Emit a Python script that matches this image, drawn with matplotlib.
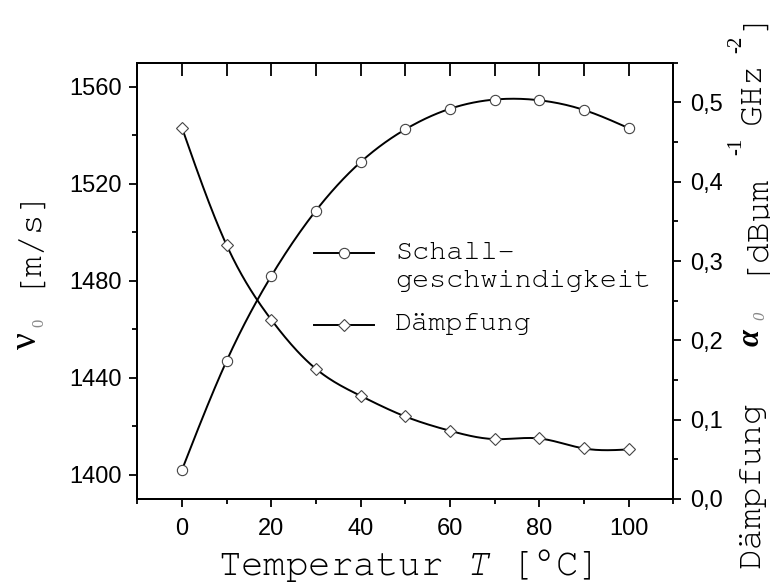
import numpy as np
import matplotlib
matplotlib.use("Agg")
import matplotlib.pyplot as plt
from matplotlib import font_manager
from matplotlib.ticker import MultipleLocator, FuncFormatter
from matplotlib.lines import Line2D

# data
temperature = [0, 10, 20, 30, 40, 50, 60, 70, 80, 90, 100]
sound_speed = [1402, 1447, 1482, 1509, 1529, 1542.5, 1551, 1554.8, 1554.5, 1550.5, 1543]
damping = [0.468, 0.320, 0.226, 0.164, 0.130, 0.104, 0.086, 0.0755, 0.0763, 0.0637, 0.0625]

W, H = 770, 588
installed = {f.name for f in font_manager.fontManager.ttflist}
mono = next((f for f in ["Courier New", "Nimbus Mono PS", "FreeMono", "Liberation Mono"]
             if f in installed), "DejaVu Sans Mono")
sans = "Liberation Sans"
serif = "Liberation Serif"

plt.rcParams["mathtext.fontset"] = "custom"
plt.rcParams["mathtext.it"] = mono + ":italic"
plt.rcParams["mathtext.rm"] = mono


def smooth(x, y, n=300):
    # natural cubic spline through the points, only for drawing the line
    x = np.asarray(x, float)
    y = np.asarray(y, float)
    h = np.diff(x)
    nn = len(x)
    A = np.zeros((nn, nn))
    r = np.zeros(nn)
    A[0, 0] = A[-1, -1] = 1
    for i in range(1, nn - 1):
        A[i, i - 1] = h[i - 1]
        A[i, i] = 2 * (h[i - 1] + h[i])
        A[i, i + 1] = h[i]
        r[i] = 3 * ((y[i + 1] - y[i]) / h[i] - (y[i] - y[i - 1]) / h[i - 1])
    c = np.linalg.solve(A, r)
    b = (y[1:] - y[:-1]) / h - h * (2 * c[:-1] + c[1:]) / 3
    d = (c[1:] - c[:-1]) / (3 * h)
    xs = np.linspace(x[0], x[-1], n)
    idx = np.clip(np.searchsorted(x, xs) - 1, 0, nn - 2)
    dx = xs - x[idx]
    ys = y[idx] + b[idx] * dx + c[idx] * dx ** 2 + d[idx] * dx ** 3
    return xs, ys


def ftext(x_px, y_px, s, **kw):
    fig.text(x_px / W, 1 - y_px / H, s, **kw)


fig = plt.figure(figsize=(W / 100, H / 100), dpi=100)
ax = fig.add_axes([137.3 / W, 1 - 499 / H, 536 / W, 436.3 / H])
ax2 = ax.twinx()

lw = 1.4
edge = "#444444"

xs, ys = smooth(temperature, sound_speed)
ax.plot(xs, ys, color="black", lw=lw, zorder=2)
ax.plot(temperature, sound_speed, ls="none", marker="o", ms=7.4,
        mfc="white", mec=edge, mew=0.8, zorder=3)

xs, ys = smooth(temperature, damping)
ax2.plot(xs, ys, color="black", lw=lw, zorder=2)
ax2.plot(temperature, damping, ls="none", marker="D", ms=6.3,
         mfc="white", mec=edge, mew=0.8, zorder=3)

ax.set_xlim(-10, 110)
ax.set_ylim(1390, 1570)
ax2.set_ylim(0, 0.55)

ax.xaxis.set_major_locator(MultipleLocator(20))
ax.xaxis.set_minor_locator(MultipleLocator(10))
ax.yaxis.set_major_locator(MultipleLocator(40))
ax.yaxis.set_minor_locator(MultipleLocator(20))
ax2.yaxis.set_major_locator(MultipleLocator(0.1))
ax2.yaxis.set_minor_locator(MultipleLocator(0.05))
ax2.yaxis.set_major_formatter(FuncFormatter(lambda v, p: f"{v:.1f}".replace(".", ",")))

for a in (ax, ax2):
    for s in a.spines.values():
        s.set_linewidth(1.4)
    a.tick_params(which="major", direction="out", length=6, width=1.3,
                  labelsize=17, pad=5)
    a.tick_params(which="minor", direction="out", length=3.5, width=1.3)
    for lab in a.get_xticklabels() + a.get_yticklabels():
        lab.set_fontfamily(sans)
ax.tick_params(axis="x", which="major", pad=8)
ax2.tick_params(axis="y", which="major", pad=6)

top = ax.secondary_xaxis("top")
top.set_xticks(np.arange(0, 101, 10))
top.tick_params(direction="in", length=9, width=1.3, labeltop=False)
top.spines["top"].set_linewidth(1.4)

ax.set_xlabel("Temperatur $\\mathit{T}$ [°C]", fontfamily=mono, fontsize=27, labelpad=5)

# left axis title, pieced together
ftext(24, 287, "[m/s]", rotation=90, ha="center", va="bottom", fontfamily=mono, fontsize=25)
ftext(27, 341, "ν", rotation=90, ha="center", va="center", fontfamily=serif, fontsize=27)
ftext(39, 323, "0", rotation=90, ha="center", va="center", fontfamily=serif,
      fontsize=12, color="#888888")

# right axis title
ftext(752, 568, "Dämpfung", rotation=90, ha="center", va="bottom", fontfamily=mono, fontsize=25)
ftext(751, 338, "α", rotation=90, ha="center", va="center", fontfamily=serif,
      fontsize=22, fontweight="bold", fontstyle="italic")
ftext(760, 316, "0", rotation=90, ha="center", va="center", fontfamily=serif,
      fontsize=12, color="#888888", fontstyle="italic")
ftext(752, 274, "[dBµm", rotation=90, ha="center", va="bottom", fontfamily=mono, fontsize=25)
ftext(737, 146, "-1", rotation=90, ha="center", va="center", fontfamily=serif, fontsize=15)
ftext(752, 124, "GHz", rotation=90, ha="center", va="bottom", fontfamily=mono, fontsize=25)
ftext(737, 44, "-2", rotation=90, ha="center", va="center", fontfamily=serif, fontsize=15)
ftext(752, 30, "]", rotation=90, ha="center", va="bottom", fontfamily=mono, fontsize=25)

handles = [
    Line2D([], [], color="black", lw=lw, marker="o", ms=7.4, mfc="white", mec=edge, mew=0.8),
    Line2D([], [], color="black", lw=lw, marker="D", ms=6.3, mfc="white", mec=edge, mew=0.8),
]
leg = ax2.legend(handles, ["Schall-\ngeschwindigkeit", "Dämpfung"],
                 loc="upper left", bbox_to_anchor=(314 / W, 1 - 242 / H),
                 bbox_transform=fig.transFigure, frameon=False, borderpad=0,
                 borderaxespad=0, handlelength=2.1, handletextpad=0.75,
                 handleheight=1.0, labelspacing=0.75,
                 prop={"family": mono, "size": 20.5})
for t in leg.get_texts():
    t.set_linespacing(1.35)
for col in leg._legend_handle_box.get_children():
    for row in col.get_children():
        row.align = "top"

fig.savefig("out.png", dpi=100)
